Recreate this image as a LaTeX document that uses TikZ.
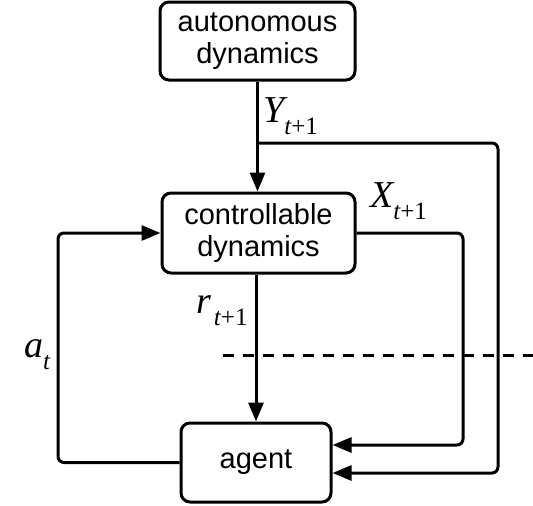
\documentclass[tikz,border=0pt]{standalone}
\usepackage{fontspec}
\setmainfont{Liberation Sans}
\newfontfamily\mathserif{Liberation Serif}
\usetikzlibrary{arrows.meta}
\newcommand{\mylbl}[2]{{\mathserif\fontsize{38}{38}\selectfont\itshape #1}\raisebox{-12pt}{\mathserif\fontsize{25}{25}\selectfont #2}}
\begin{document}
\begin{tikzpicture}[x=1pt,y=-1pt,
  box/.style={draw, line width=3pt, rounded corners=9pt, align=center, inner sep=0pt,
    font=\fontsize{29}{32}\selectfont},
  conn/.style={line width=3pt, rounded corners=6pt, -{Triangle[length=19pt,width=15pt]}},
  lbl/.style={anchor=base west, inner sep=0pt}]
\useasboundingbox (0,0) rectangle (533,506);
\node[box, minimum width=195pt, minimum height=78pt] (auto) at (257.5,41) {autonomous\\dynamics};
\node[box, minimum width=193pt, minimum height=80pt] (ctrl) at (258.5,233) {controllable\\dynamics};
\node[box, minimum width=150pt, minimum height=79pt] (agent) at (256,462.5) {agent};
\coordinate (ybr) at (257.5,143);
\draw[conn] (auto.south) -- (auto.south |- ctrl.north);
\draw[conn] (ybr) -- (498,143) -- (498,473) -- (agent.east |- 0,473);
\draw[conn] (ctrl.east) -- (463,233) -- (463,445) -- (agent.east |- 0,445);
\draw[conn] (agent.west) -- (58,462.5) -- (58,233) -- (ctrl.west);
\draw[conn] (ctrl.south -| agent.north) -- (agent.north);
\draw[line width=3pt, dash pattern=on 11pt off 9pt] (223,355) -- (533,355);
\node[lbl] (ly) at (263,122) {\mylbl{Y}{\itshape t\upshape+1}};
\node[lbl] (lx) at (370,207) {\mylbl{X}{\itshape t\upshape+1}};
\node[lbl] (lr) at (196,313) {\mylbl{r}{\hspace{3pt}\itshape t\upshape+1}};
\node[lbl] (la) at (24,357) {\mylbl{a}{\itshape t}};
\end{tikzpicture}
\end{document}
